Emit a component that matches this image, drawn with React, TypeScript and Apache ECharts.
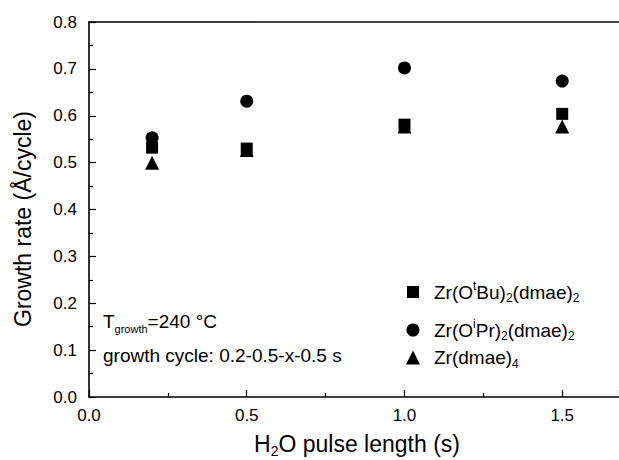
import React, { useEffect, useRef } from "react";
import * as echarts from "echarts";

const pulseLengths = [0.2, 0.5, 1.0, 1.5];
const tbuRates = [0.532, 0.53, 0.581, 0.604];
const iprRates = [0.553, 0.631, 0.702, 0.674];
const dmaeRates = [0.5, 0.527, 0.577, 0.577];

const seriesNames = ["Zr(OtBu)2(dmae)2", "Zr(OiPr)2(dmae)2", "Zr(dmae)4"];
const legendRich: Record<string, string> = {
  "Zr(OtBu)2(dmae)2": "{m|Zr(O}{sup|t}{m|Bu)}{sub|2}{m|(dmae)}{sub|2}",
  "Zr(OiPr)2(dmae)2": "{m|Zr(O}{sup|i}{m|Pr)}{sub|2}{m|(dmae)}{sub|2}",
  "Zr(dmae)4": "{m|Zr(dmae)}{sub|4}",
};

const FONT = "'Liberation Sans', Arial, Helvetica, sans-serif";
const BLACK = "#000";

const richStyles = (main: number, small: number, lh: number) => ({
  m: { fontSize: main, fontFamily: FONT, color: BLACK, lineHeight: lh },
  sub: { fontSize: small, fontFamily: FONT, color: BLACK, verticalAlign: "bottom" },
  sup: { fontSize: small, fontFamily: FONT, color: BLACK, verticalAlign: "top" },
});

export default function App() {
  const ref = useRef<HTMLDivElement>(null);
  useEffect(() => {
    if (!ref.current) return;
    const chart = echarts.init(ref.current, null, { renderer: "svg" });
    const toPairs = (ys: number[]) => pulseLengths.map((x, i) => [x, ys[i]]);
    const legendCenters = [292, 330, 360];
    const legendSizes = [12, 13, 14];
    chart.setOption({
      animation: false,
      backgroundColor: "#fff",
      grid: { left: 89, right: 0, top: 22, bottom: 63, containLabel: false },
      xAxis: [
        {
          type: "value",
          min: 0,
          max: 1.68,
          interval: 0.5,
          position: "bottom",
          axisLine: { show: true, lineStyle: { color: BLACK, width: 1.6 } },
          axisTick: { show: true, inside: true, length: 7, lineStyle: { color: BLACK, width: 1.2 } },
          minorTick: { show: true, splitNumber: 2, length: 4, lineStyle: { color: BLACK, width: 1.2 } },
          axisLabel: {
            color: BLACK,
            fontSize: 17,
            fontFamily: FONT,
            margin: 10,
            showMaxLabel: false,
            formatter: (v: number) => v.toFixed(1),
          },
          splitLine: { show: false },
        },
        {
          type: "value",
          min: 0,
          max: 1.68,
          position: "top",
          axisLine: { show: true, lineStyle: { color: BLACK, width: 1.6 } },
          axisTick: { show: false },
          axisLabel: { show: false },
          splitLine: { show: false },
        },
      ],
      yAxis: {
        type: "value",
        min: 0,
        max: 0.8,
        interval: 0.1,
        axisLine: { show: true, lineStyle: { color: BLACK, width: 1.6 } },
        axisTick: { show: true, inside: true, length: 7, lineStyle: { color: BLACK, width: 1.2 } },
        minorTick: { show: true, splitNumber: 2, length: 4, lineStyle: { color: BLACK, width: 1.2 } },
        axisLabel: {
          color: BLACK,
          fontSize: 17,
          fontFamily: FONT,
          margin: 12,
          formatter: (v: number) => v.toFixed(1),
        },
        splitLine: { show: false },
      },
      legend: seriesNames.map((name, i) => ({
        data: [name],
        orient: "vertical",
        left: 413 - legendSizes[i] / 2,
        top: legendCenters[i] - 12,
        itemWidth: legendSizes[i],
        itemHeight: legendSizes[i],
        selectedMode: false,
        padding: 0,
        itemStyle: { opacity: 1 },
        formatter: (n: string) => legendRich[n],
        textStyle: {
          color: BLACK,
          fontFamily: FONT,
          fontSize: 19,
          padding: [0, 0, 0, 22 - 5 - legendSizes[i] / 2 - 1],
          rich: richStyles(19, 12, 24),
        },
      })),
      series: [
        {
          name: seriesNames[0],
          type: "scatter",
          symbol: "rect",
          symbolSize: 12,
          data: toPairs(tbuRates),
          itemStyle: { color: BLACK, opacity: 1 },
          z: 3,
        },
        {
          name: seriesNames[1],
          type: "scatter",
          symbol: "circle",
          symbolSize: 13,
          data: toPairs(iprRates),
          itemStyle: { color: BLACK, opacity: 1 },
          z: 3,
        },
        {
          name: seriesNames[2],
          type: "scatter",
          symbol: "triangle",
          symbolSize: 14,
          data: toPairs(dmaeRates),
          itemStyle: { color: BLACK, opacity: 1 },
          z: 2,
        },
      ],
      graphic: [
        {
          type: "text",
          x: 23,
          y: 219,
          rotation: Math.PI / 2,
          style: {
            text: "Growth rate (Å/cycle)",
            fill: BLACK,
            font: `23px ${FONT}`,
            align: "center",
            verticalAlign: "middle",
          },
        },
        {
          type: "text",
          x: 357,
          y: 444,
          style: {
            text: "{m|H}{sub|2}{m|O pulse length (s)}",
            rich: richStyles(23, 14, 28),
            fill: BLACK,
            align: "center",
            verticalAlign: "middle",
          },
        },
        {
          type: "text",
          x: 103,
          y: 321,
          style: {
            text: "{m|T}{sub|growth}{m|=240 °C}",
            rich: richStyles(19, 11, 26),
            fill: BLACK,
            align: "left",
            verticalAlign: "middle",
          },
        },
        {
          type: "text",
          x: 103,
          y: 355,
          style: {
            text: "growth cycle: 0.2-0.5-x-0.5 s",
            fill: BLACK,
            font: `19px ${FONT}`,
            align: "left",
            verticalAlign: "middle",
          },
        },
      ],
    });
    return () => chart.dispose();
  }, []);
  return (
    <div
      ref={ref}
      style={{ position: "fixed", left: 0, top: 0, width: 619, height: 460, background: "#fff" }}
    />
  );
}
